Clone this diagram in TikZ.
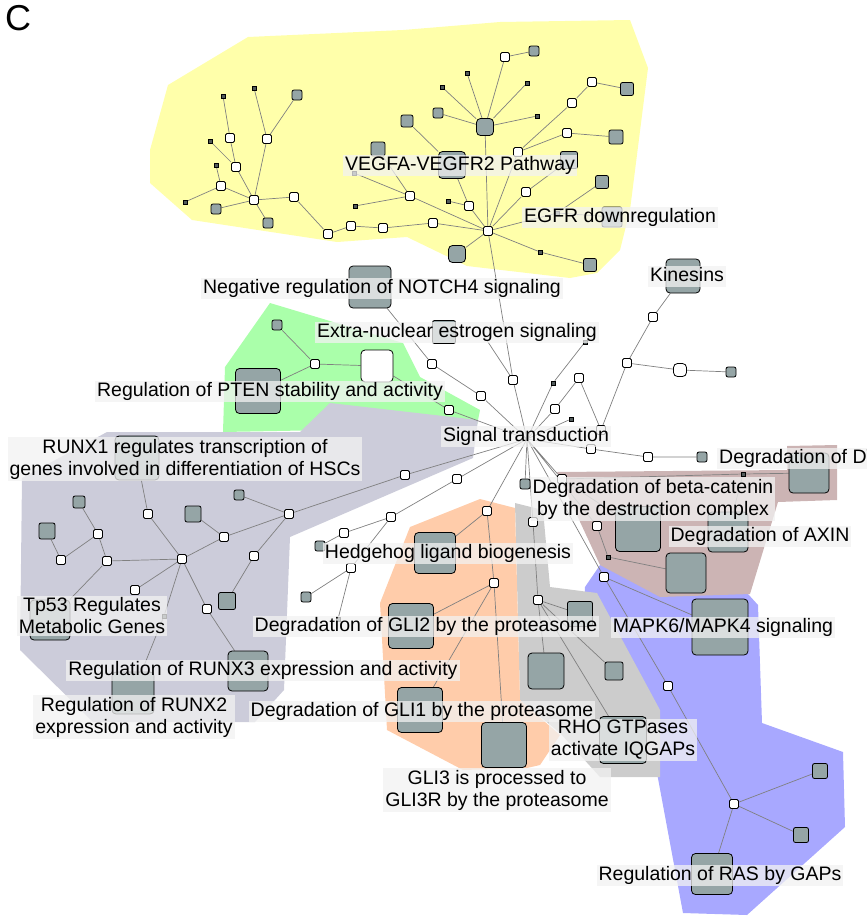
\documentclass[tikz,border=0pt]{standalone}
\usepackage{fontspec}
\setmainfont{Liberation Sans}
\usetikzlibrary{backgrounds}
\definecolor{yellowR}{RGB}{255,255,170}
\definecolor{greenR}{RGB}{170,255,170}
\definecolor{lavR}{RGB}{204,204,218}
\definecolor{peachR}{RGB}{255,204,170}
\definecolor{grayR}{RGB}{204,204,204}
\definecolor{brownR}{RGB}{204,180,180}
\definecolor{blueR}{RGB}{168,168,255}
\definecolor{nodegray}{RGB}{149,165,166}
\definecolor{edgegray}{RGB}{128,128,128}
\definecolor{labfill}{RGB}{242,242,242}
\pgfdeclarelayer{regions}
\pgfdeclarelayer{edges}
\pgfsetlayers{regions,edges,main}
\tikzset{
  nbase/.style={draw=black, line width=0.8pt, inner sep=0pt, minimum size=#1},
  wn/.style={nbase=9pt, fill=white, rounded corners=1.5pt},
  wnb/.style={nbase=#1, fill=white, rounded corners=4pt},
  gn/.style={nbase=#1, fill=nodegray, rounded corners=2pt},
  gb/.style={nbase=#1, fill=nodegray, rounded corners=4pt},
  tn/.style={nbase=4pt, fill=nodegray!55!black, line width=0.7pt},
  ed/.style={draw=edgegray, line width=0.7pt},
  lab/.style={fill=labfill, fill opacity=0.75, text opacity=1, inner xsep=2pt, inner ysep=1.5pt, text height=14pt, text depth=4pt},
  labm/.style={fill=labfill, fill opacity=0.75, text opacity=1, inner xsep=2pt, inner ysep=1.5pt, align=center}
}
\begin{document}
\begin{tikzpicture}[x=1pt,y=-1pt, font=\fontsize{19.5}{22}\selectfont]
\useasboundingbox (0,0) rectangle (867,921);

\begin{pgfonlayer}{regions}
\fill[yellowR] (248,37) -- (403,30) -- (500,22) -- (630,20) -- (648,68) -- (630,210) -- (620,250) -- (597,273) -- (570,278) -- (467,266) -- (407,237) -- (337,242) -- (192,220) -- (150,183) -- (150,150) -- (168,85) -- cycle;
\fill[greenR] (270,303) -- (403,343) -- (420,377) -- (480,410) -- (477,425) -- (330,430) -- (223,432) -- (225,367) -- cycle;
\fill[lavR] (107,432) -- (300,432) -- (330,403) -- (478,420) -- (473,458) -- (290,537) -- (284,690) -- (255,722) -- (93,722) -- (20,650) -- (22,478) -- cycle;
\fill[blueR] (583,640) -- (585,587) -- (600,565) -- (748,594) -- (758,605) -- (762,723) -- (843,752) -- (845,827) -- (747,915) -- (683,913) -- (657,773) -- (640,720) -- cycle;
\fill[brownR] (557,472) -- (787,470) -- (787,446) -- (837,445) -- (837,500) -- (778,502) -- (750,594) -- (660,597) -- (600,565) -- cycle;
\fill[grayR] (515,503) -- (543,510) -- (550,587) -- (597,593) -- (660,710) -- (660,777) -- (600,777) -- (560,733) -- (520,700) -- cycle;
\fill[peachR] (410,527) -- (480,499) -- (515,508) -- (520,700) -- (560,735) -- (540,765) -- (527,768) -- (463,770) -- (387,730) -- (380,603) -- cycle;
\end{pgfonlayer}

\node[font=\fontsize{36}{40}\selectfont, anchor=west, inner sep=0pt] (letterC) at (5,18.5) {C};

% yellow cluster
\node[tn] (y1) at (223,96) {};
\node[wn] (y2) at (230,138) {};
\node[tn] (y3) at (210,141) {};
\node[wn] (y4) at (236,167) {};
\node[tn] (y5) at (216,165) {};
\node[wn] (y6) at (221,186) {};
\node[tn] (y7) at (185,202) {};
\node[gn=10pt] (y8) at (216,209) {};
\node[wn] (yA) at (254,200) {};
\node[gn=10pt] (y9) at (268,223) {};
\node[wn] (y10) at (267,139) {};
\node[tn] (y11) at (254,88) {};
\node[gn=10pt] (y12) at (297,95) {};
\node[wn] (y13) at (294,197) {};
\node[wn] (y14) at (328,234) {};
\node[wn] (y15) at (351,226) {};
\node[wn] (y16) at (383,228) {};
\node[wn] (y17) at (433,223) {};
\node[wn] (yH) at (488,231) {};
\node[wn] (y18) at (410,196) {};
\node[tn] (y19) at (355,206) {};
\node[tn] (y20) at (354,173) {};
\node[gn=14pt] (y21) at (378,149) {};
\node[gb=27pt] (vegfa) at (452,165) {};
\node[gn=12pt] (y22) at (407,121) {};
\node[gn=10pt] (y23) at (438,113) {};
\node[tn] (y24) at (442,87) {};
\node[tn] (y25) at (467,73) {};
\node[gb=17pt] (yB) at (485,127) {};
\node[wn] (y26) at (469,206) {};
\node[tn] (y27) at (448,201) {};
\node[gb=17pt] (y28) at (457,254) {};
\node[wn] (y29) at (505,57) {};
\node[tn] (y30) at (527,83) {};
\node[tn] (y31) at (537,116) {};
\node[gn=10pt] (y32) at (534,51) {};
\node[wn] (y33) at (518,152) {};
\node[wn] (y34) at (572,103) {};
\node[wn] (y35) at (592,82) {};
\node[gn=13pt] (y36) at (627,89) {};
\node[wn] (y37) at (567,133) {};
\node[gn=14pt] (y38) at (616,137) {};
\node[wn] (y39) at (526,192) {};
\node[gn=17pt] (y40) at (569,160) {};
\node[gn=13pt] (y41) at (602,182) {};
\node[tn] (y42) at (557,213) {};
\node[gn=20pt] (egfr) at (612,217) {};
\node[tn] (y43) at (540,252) {};
\node[gn=13pt] (y44) at (590,265) {};

% middle
\node[gb=42pt] (notch) at (370,287) {};
\node[gn=23pt] (estr) at (444,332) {};
\node[wn] (n1) at (432,364) {};
\node[wn] (n2) at (481,396) {};
\node[wn] (s1) at (513,380) {};
\coordinate (sc) at (484,336);
\node[gn=10pt] (g1) at (277,325) {};
\node[wn] (g2) at (315,364) {};
\node[gb=45pt] (pten) at (258,391) {};
\node[wnb=32pt] (bw) at (377,366) {};
\node[wn] (g3) at (449,410) {};

% right upper
\node[tn] (r1) at (585,342) {};
\node[tn] (r2) at (553,383) {};
\node[wn] (r3) at (579,378) {};
\node[wn] (r4) at (555,409) {};
\node[tn] (r5) at (571,419) {};
\node[wn] (r6) at (601,430) {};
\node[wn] (r7) at (627,363) {};
\node[wn] (r8) at (653,317) {};
\node[gb=34pt] (kin) at (683,276) {};
\node[wnb=13pt] (r9) at (680,370) {};
\node[gn=10pt] (r10) at (731,372) {};
\node[wn] (r11) at (591,449) {};
\node[wn] (r12) at (648,457) {};
\node[gn=10pt] (r13) at (702,457) {};

% lower right
\coordinate (hub) at (527,439);
\node[gn=10pt] (b1) at (525,484) {};
\node[wn] (b2) at (562,479) {};
\node[gb=40pt] (dvl) at (809,473) {};
\node[tn] (bD) at (743,474) {};
\node[gb=45pt] (bc) at (638,529) {};
\node[gb=40pt] (axin) at (728,532) {};
\node[wn] (b3) at (597,526) {};
\node[tn] (b4) at (608,557) {};
\node[gb=40pt] (b5) at (686,573) {};
\node[wn] (b6) at (533,522) {};
\node[wn] (b7) at (538,600) {};
\node[wn] (b8) at (604,577) {};
\node[gb=56pt] (mapk) at (720,627) {};
\node[gn=25pt] (b9) at (580,614) {};
\node[gb=36pt] (b10) at (546,671) {};
\node[gn=18pt] (b11) at (614,671) {};
\node[gb=47pt] (rho) at (623,740) {};
\node[wn] (b12) at (668,686) {};
\node[wn] (b13) at (734,804) {};
\node[gn=15pt] (b14) at (820,771) {};
\node[gn=15pt] (b15) at (801,835) {};
\node[gb=41pt] (ras) at (712,874) {};

% peach
\node[wn] (p1) at (457,479) {};
\node[wn] (p2) at (391,517) {};
\node[wn] (p3) at (344,533) {};
\node[gn=10pt] (p4) at (320,546) {};
\node[wn] (p5) at (351,568) {};
\node[gn=10pt] (p6) at (306,597) {};
\node[tn] (p7) at (338,619) {};
\node[gb=41pt] (hh) at (435,553) {};
\node[wn] (p8) at (487,511) {};
\node[wn] (p9) at (494,583) {};
\node[gb=45pt] (gli2) at (411,626) {};
\node[gb=45pt] (gli1) at (420,710) {};
\node[gb=45pt] (gli3) at (504,745) {};

% lavender
\node[wn] (L) at (182,559) {};
\node[wn] (l1) at (148,514) {};
\node[gb=44pt] (runx1) at (137,458) {};
\node[gn=12pt] (l2) at (79,502) {};
\node[gn=16pt] (l3) at (47,531) {};
\node[wn] (l4) at (98,534) {};
\node[wn] (l5) at (61,560) {};
\node[wn] (l6) at (107,561) {};
\node[gn=16pt] (l7) at (193,514) {};
\node[wn] (l8) at (224,537) {};
\node[gn=10pt] (l9) at (239,495) {};
\node[wn] (l10) at (289,514) {};
\node[wn] (l11) at (254,556) {};
\node[gn=17pt] (l12) at (227,601) {};
\node[wn] (l13) at (135,590) {};
\node[tn] (l14) at (164,616) {};
\node[wn] (l15) at (207,609) {};
\node[gb=40pt] (tp53) at (50,620) {};
\node[gb=40pt] (runx3) at (248,671) {};
\node[gb=42pt] (runx2) at (133,693) {};
\node[wn] (l16) at (405,475) {};

\begin{pgfonlayer}{edges}
\draw[ed] (yA)--(y6) (y6)--(y7) (y6)--(y5) (yA)--(y4) (y4)--(y2) (y2)--(y1) (y4)--(y3)
  (yA)--(y10) (y10)--(y11) (y10)--(y12) (yA)--(y8) (yA)--(y9) (yA)--(y13) (y13)--(y14)
  (y14)--(y15) (y15)--(y16) (y16)--(y17) (y17)--(yH) (y18)--(yH) (y18)--(y19) (y18)--(y20)
  (y18)--(y21) (y22)--(vegfa) (vegfa)--(y26) (y26)--(y27) (y26)--(yH) (yB)--(y23) (yB)--(y24)
  (yB)--(y25) (yB)--(y29) (y29)--(y32) (yB)--(y30) (yB)--(y31) (yB)--(yH) (yH)--(y33)
  (y33)--(y34) (y34)--(y35) (y35)--(y36) (y33)--(y37) (y37)--(y38) (yH)--(y39) (y39)--(y40)
  (yH)--(y42) (y42)--(y41) (y42)--(egfr) (yH)--(y43) (y43)--(y44) (yH)--(y28) (yH)--(s1);
\draw[ed] (s1)--(hub) (s1)--(sc) (notch)--(n1) (n1)--(n2) (n2)--(hub) (g1)--(g2) (g2)--(pten)
  (g2)--(bw) (bw)--(g3) (g3)--(hub)
  (hub)--(r2) (r2)--(r1) (hub)--(r4) (r4)--(r3) (r3)--(r6) (r6)--(r7) (r7)--(r8) (r8)--(kin)
  (r7)--(r9) (r9)--(r10) (hub)--(r5) (hub)--(r11) (r11)--(r12) (r12)--(r13);
\draw[ed] (hub)--(b1) (hub)--(b2) (b2)--(bD) (bD)--(dvl) (bD)--(axin) (b2)--(bc) (hub)--(b3)
  (b3)--(b4) (b4)--(b5) (hub)--(b6) (b6)--(b7) (b7)--(b9) (b7)--(b10) (b7)--(b11) (b7)--(rho)
  (hub)--(b8) (b8)--(mapk) (b8)--(b12) (b12)--(b13) (b13)--(b14) (b13)--(b15) (b13)--(ras);
\draw[ed] (hub)--(p1) (p1)--(p2) (p2)--(p3) (p3)--(p4) (p2)--(p5) (p5)--(p6) (p5)--(p7)
  (hub)--(p8) (p8)--(hh) (p8)--(p9) (p9)--(gli2) (p9)--(gli1) (p9)--(gli3);
\draw[ed] (runx1)--(l1) (l1)--(L) (l2)--(l4) (l4)--(l6) (l6)--(L) (l4)--(l5) (l5)--(l3)
  (L)--(l8) (l8)--(l7) (l8)--(l10) (l10)--(l9) (l10)--(l11) (l11)--(l12) (l10)--(l16)
  (l16)--(hub) (L)--(l13) (L)--(l14) (l14)--(runx2) (L)--(l15) (l15)--(runx3) (l6)--(tp53);
\end{pgfonlayer}

% labels
\node[lab] (tVEG) at (460,165) {VEGFA-VEGFR2 Pathway};
\node[lab] (tEGFR) at (620,217) {EGFR downregulation};
\node[lab] (tKIN) at (687,276) {Kinesins};
\node[lab] (tNOT) at (382,288) {Negative regulation of NOTCH4 signaling};
\node[lab] (tEST) at (457,332) {Extra-nuclear estrogen signaling};
\node[lab] (tPTEN) at (270,391) {Regulation of PTEN stability and activity};
\node[lab] (tSIG) at (526,436) {Signal transduction};
\node[labm] (tRUNX1) at (185,459) {RUNX1 regulates transcription of\\genes involved in differentiation of HSCs};
\node[lab, anchor=west] (tDVL) at (717,458) {Degradation of DVL};
\node[labm] (tBC) at (653,499) {Degradation of beta-catenin\\by the destruction complex};
\node[lab] (tAXIN) at (760,536) {Degradation of AXIN};
\node[lab] (tHH) at (448,553) {Hedgehog ligand biogenesis};
\node[labm] (tTP53) at (92,616) {Tp53 Regulates\\Metabolic Genes};
\node[lab] (tGLI2) at (426,626) {Degradation of GLI2 by the proteasome};
\node[lab] (tMAPK) at (723,627) {MAPK6/MAPK4 signaling};
\node[lab] (tRUNX3) at (263,670) {Regulation of RUNX3 expression and activity};
\node[labm] (tRUNX2) at (134,717) {Regulation of RUNX2\\expression and activity};
\node[lab] (tGLI1) at (422,711) {Degradation of GLI1 by the proteasome};
\node[labm] (tRHO) at (623,740) {RHO GTPases\\activate IQGAPs};
\node[labm] (tGLI3) at (497,790) {GLI3 is processed to\\GLI3R by the proteasome};
\node[lab] (tRAS) at (720,875) {Regulation of RAS by GAPs};
\end{tikzpicture}
\end{document}
